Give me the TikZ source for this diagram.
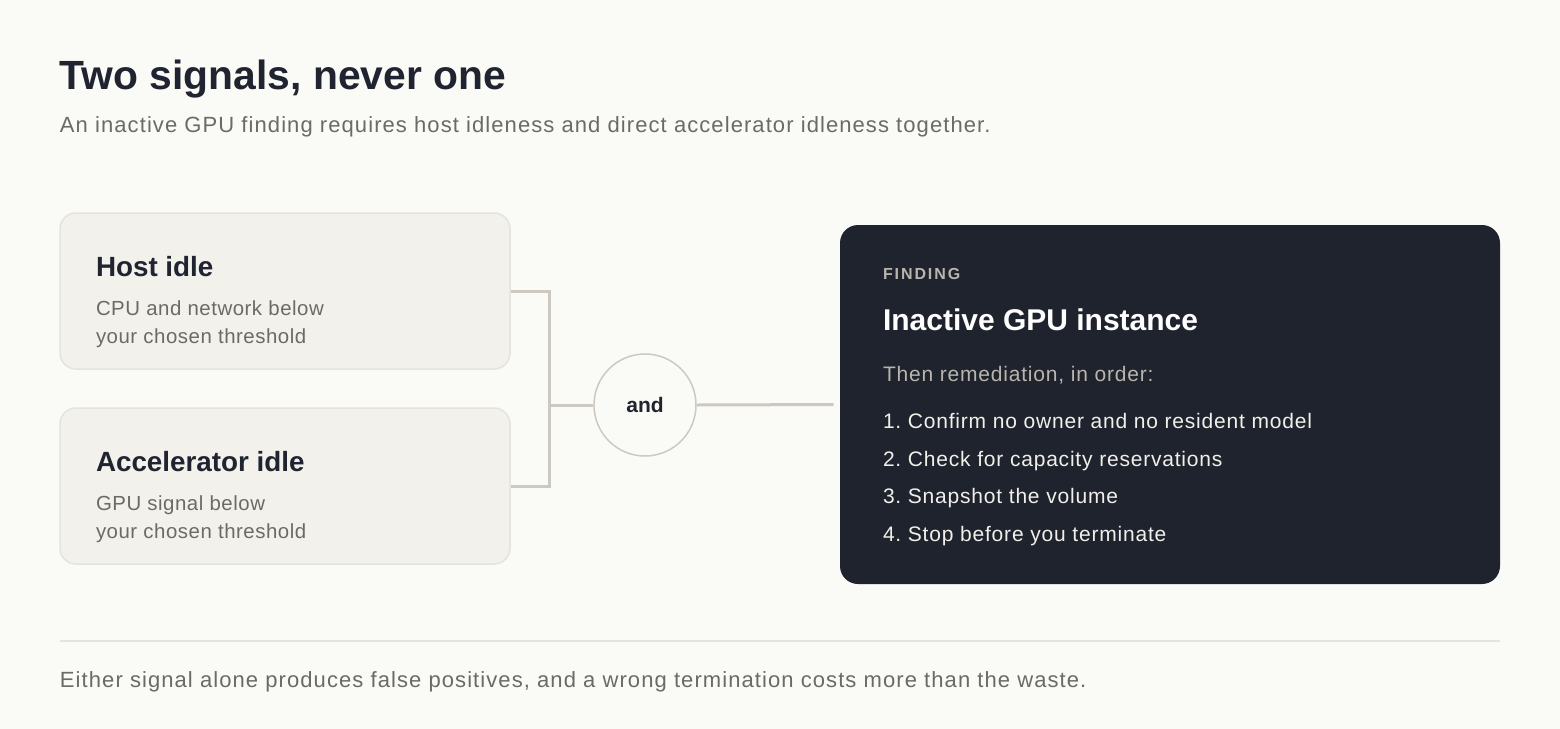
\documentclass[tikz,border=0pt]{standalone}
\usepackage{fontspec}
\setmainfont{Liberation Sans}
\frenchspacing
\definecolor{bg}{HTML}{FAFAF6}
\definecolor{boxfill}{HTML}{F2F1EC}
\definecolor{boxline}{HTML}{E5E3DD}
\definecolor{dark}{HTML}{1E232D}
\definecolor{ink}{HTML}{1F2430}
\definecolor{grey}{HTML}{6B6A65}
\definecolor{conn}{HTML}{CDC9C0}
\definecolor{muted}{HTML}{B9B5AC}
\definecolor{listc}{HTML}{F1EFEA}
\tikzset{
  px/.style={x=0.5pt,y=-0.5pt},
  sigbox/.style={draw=boxline,line width=0.75pt,fill=boxfill,rounded corners=8pt,minimum width=225pt,minimum height=78pt,inner sep=0pt},
  txt/.style={anchor=base west,inner sep=0pt,outer sep=0pt},
  connline/.style={draw=conn,line width=1.5pt},
  bodyfont/.style={font=\fontsize{11pt}{13pt}\selectfont\addfontfeatures{LetterSpace=4.9}},
  descfont/.style={font=\fontsize{10.2pt}{13pt}\selectfont\addfontfeatures{LetterSpace=2.6}},
  darkfont/.style={font=\fontsize{10.5pt}{13pt}\selectfont\addfontfeatures{LetterSpace=3.8}},
  headfont/.style={font=\fontsize{13.9pt}{16pt}\bfseries},
}
\begin{document}
\begin{tikzpicture}[px]
\fill[bg] (0,0) rectangle (1560,729);
\useasboundingbox (0,0) rectangle (1560,729);
% title
\node[txt,text=ink,font=\fontsize{20.4pt}{24pt}\bfseries] (title) at (60,89) {Two signals, never one};
\node[txt,text=grey,bodyfont] (sub) at (60,132) {An inactive GPU finding requires host idleness and direct accelerator idleness together.};
% signal boxes
\node[sigbox] (box1) at (285,291) {};
\node[sigbox] (box2) at (285,486) {};
\node[txt,text=ink,headfont] (h1) at (96,276) {Host idle};
\node[txt,text=grey,descfont] (d1a) at (96,315) {CPU and network below};
\node[txt,text=grey,descfont] (d1b) at (96,343) {your chosen threshold};
\node[txt,text=ink,headfont] (h2) at (96,471) {Accelerator idle};
\node[txt,text=grey,descfont] (d2a) at (96,510) {GPU signal below};
\node[txt,text=grey,descfont] (d2b) at (96,538) {your chosen threshold};
% and circle
\node[circle,draw=conn,line width=0.75pt,fill=bg,minimum size=51pt,inner sep=0pt,text=ink,font=\fontsize{10.5pt}{13pt}\bfseries] (andc) at (645,405) {and};
\coordinate (j) at (549,405);
\draw[connline] (box1.east) -| (j) |- (box2.east);
\draw[connline] (j) -- (andc.west);
% finding box
\node[fill=dark,rounded corners=9pt,minimum width=330pt,minimum height=179.5pt,inner sep=0pt] (find) at (1170,404.5) {};
\draw[connline,shorten >=3pt] (andc.east) -- (find.west);
\node[txt,text=muted,font=\fontsize{8pt}{10pt}\bfseries\addfontfeatures{LetterSpace=12}] (lab) at (883,279) {FINDING};
\node[txt,text=white,font=\fontsize{15pt}{18pt}\bfseries] (ftitle) at (883,330) {Inactive GPU instance};
\node[txt,text=muted,darkfont] (then) at (883,381) {Then remediation, in order:};
\node[txt,text=listc,darkfont] (s1) at (883,428) {1. Confirm no owner and no resident model};
\node[txt,text=listc,darkfont] (s2) at (883,466) {2. Check for capacity reservations};
\node[txt,text=listc,darkfont] (s3) at (883,503) {3. Snapshot the volume};
\node[txt,text=listc,darkfont] (s4) at (883,541) {4. Stop before you terminate};
% divider and footer
\coordinate (dl) at (60,641);
\coordinate (dr) at (1500,641);
\draw[draw=boxline,line width=0.75pt] (dl) -- (dr);
\node[txt,text=grey,bodyfont] (foot) at (60,687) {Either signal alone produces false positives, and a wrong termination costs more than the waste.};
\end{tikzpicture}
\end{document}
